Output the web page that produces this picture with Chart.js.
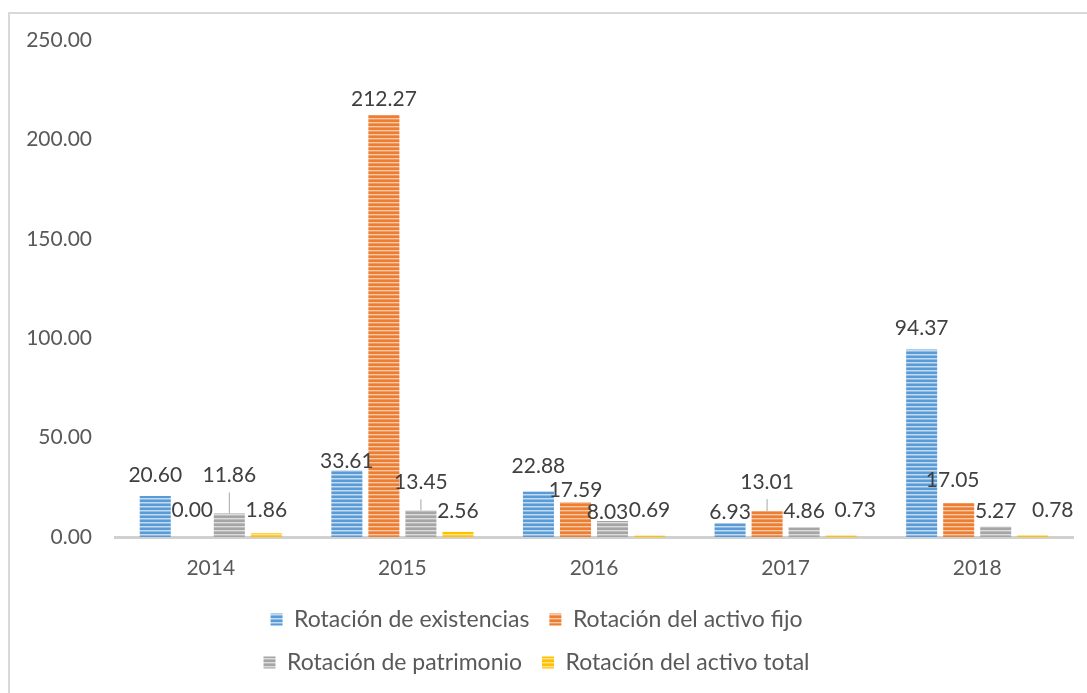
<!DOCTYPE html>
<html>
<head>
<meta charset="utf-8">
<script src="https://cdn.jsdelivr.net/npm/chart.js@4/dist/chart.umd.min.js"></script>
<style>
  html, body { margin: 0; padding: 0; background: #fff; }
  canvas { display: block; }
</style>
</head>
<body>
<canvas id="myChart" width="1087" height="693"></canvas>
<script>
// data
const years = ['2014', '2015', '2016', '2017', '2018'];
const existencias = [20.60, 33.61, 22.88, 6.93, 94.37];
const activoFijo = [0.00, 212.27, 17.59, 13.01, 17.05];
const patrimonio = [11.86, 13.45, 8.03, 4.86, 5.27];
const activoTotal = [1.86, 2.56, 0.69, 0.73, 0.78];
const yTicks = [0, 50, 100, 150, 200, 250];

// label nudges (px) so the labels sit where Excel put them
const labelLift = [
  [2, -10, 6, -8, 2],
  [8, -3, -7, 10, 4],
  [19, 9, -10, -3, -4],
  [4, 2, 6, 6, 6]
];
const labelShift = [
  [0, 0, 0, 0, 0],
  [0, 0, 0, 0, -6],
  [0, 0, -5, 0, 0],
  [0, 0, 0, 14, 20]
];
const labelLeader = [
  [false, false, false, false, false],
  [false, false, false, true, false],
  [true, true, false, false, false],
  [false, false, false, false, false]
];

const FONT = 'Lato';

function stripes(base, light, mid) {
  let c = document.createElement('canvas');
  c.width = 4; c.height = 4;
  let g = c.getContext('2d');
  g.fillStyle = base; g.fillRect(0, 0, 4, 2);
  g.fillStyle = light; g.fillRect(0, 2, 4, 1);
  g.fillStyle = mid; g.fillRect(0, 3, 4, 1);
  return g.createPattern(c, 'repeat');
}

const frame = {
  id: 'frame',
  beforeDraw(chart) {
    let ctx = chart.ctx;
    ctx.save();
    ctx.strokeStyle = '#d9d9d9';
    ctx.lineWidth = 2;
    ctx.strokeRect(9, 13, 1100, 700);
    ctx.restore();
  }
};

// make the legend wrap to two items per row, like the original
const twoRowLegend = {
  id: 'twoRowLegend',
  beforeLayout(chart) {
    let lg = chart.legend;
    if (!lg || lg._twoRows) return;
    lg._twoRows = true;
    let fitRows = lg._fitRows;
    lg._fitRows = function () {
      let mw = this.maxWidth;
      this.maxWidth = 640;
      let h = fitRows.apply(this, arguments);
      this.maxWidth = mw;
      return h;
    };
  }
};

const valueLabels = {
  id: 'valueLabels',
  afterDatasetsDraw(chart) {
    let ctx = chart.ctx;
    ctx.save();
    ctx.font = '21px ' + FONT;
    ctx.fillStyle = '#404040';
    ctx.textAlign = 'center';
    ctx.textBaseline = 'middle';
    chart.data.datasets.forEach((ds, d) => {
      chart.getDatasetMeta(d).data.forEach((bar, i) => {
        let x = bar.x + labelShift[d][i];
        let y = bar.y - 19 - labelLift[d][i];
        ctx.fillText(ds.data[i].toFixed(2), x, y);
        if (labelLeader[d][i]) {
          ctx.strokeStyle = '#a6a6a6';
          ctx.lineWidth = 1;
          ctx.beginPath();
          ctx.moveTo(x, y + 17);
          ctx.lineTo(bar.x, bar.y);
          ctx.stroke();
        }
      });
    });
    ctx.restore();
  }
};

let ctx = document.getElementById('myChart').getContext('2d');
let myChart = new Chart(ctx, {
  type: 'bar',
  data: {
    labels: years,
    datasets: [
      { label: 'Rotación de existencias', data: existencias,
        backgroundColor: stripes('#5b9bd5', '#c3dbf1', '#8dbbe6') },
      { label: 'Rotación del activo fijo', data: activoFijo,
        backgroundColor: stripes('#ed7d31', '#f8caa9', '#f19a5f') },
      { label: 'Rotación de patrimonio', data: patrimonio,
        backgroundColor: stripes('#a5a5a5', '#dcdcdc', '#bcbcbc') },
      { label: 'Rotación del activo total', data: activoTotal,
        backgroundColor: stripes('#ffc000', '#ffe38a', '#ffcd3a') }
    ]
  },
  options: {
    responsive: false,
    devicePixelRatio: 1,
    animation: false,
    datasets: {
      bar: { categoryPercentage: 0.773, barPercentage: 0.838, borderWidth: 0 }
    },
    layout: { padding: { top: 40, right: 14, left: 0, bottom: 9 } },
    scales: {
      x: {
        grid: { display: false, drawTicks: false },
        border: { color: '#d0d0d0', width: 3 },
        ticks: { color: '#595959', font: { family: FONT, size: 21 }, padding: 19 },
        afterFit(scale) { scale.height = 51; }
      },
      y: {
        min: 0, max: 250,
        afterBuildTicks(scale) { scale.ticks = yTicks.map(v => ({ value: v })); },
        grid: { display: false, drawTicks: false },
        border: { display: false },
        ticks: {
          color: '#595959', font: { family: FONT, size: 21 }, padding: 23,
          callback: v => Number(v).toFixed(2)
        },
        afterFit(scale) { scale.width = 115; }
      }
    },
    plugins: {
      legend: {
        position: 'bottom',
        labels: {
          color: '#595959',
          font: { family: FONT, size: 23 },
          boxWidth: 12, boxHeight: 12,
          padding: 20
        }
      },
      tooltip: { enabled: false }
    }
  },
  plugins: [frame, twoRowLegend, valueLabels]
});
</script>
</body>
</html>
